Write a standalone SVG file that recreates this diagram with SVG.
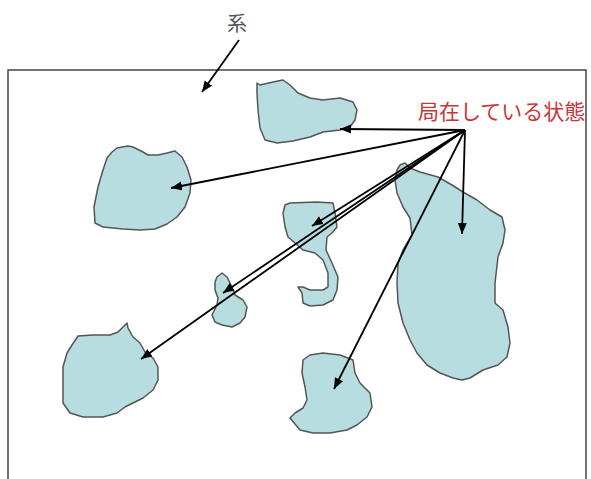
<svg xmlns="http://www.w3.org/2000/svg" width="591" height="479" viewBox="0 0 591 479">
<style>
.blob{fill:#b7dde1;stroke:#555;stroke-width:1.5;stroke-linejoin:round}
.arr{stroke:#000;stroke-width:1.8;fill:none;marker-end:url(#ah)}
.frame{fill:none;stroke:#444;stroke-width:1.5}
</style>
<defs>
<marker id="ah" markerUnits="userSpaceOnUse" markerWidth="12" markerHeight="10" refX="11" refY="4.5" orient="auto">
<path d="M0,0 L11,4.5 L0,9 Z" fill="#000"/>
</marker>
</defs>
<rect width="591" height="479" fill="#fff"/>
<g id="system">
<path class="frame" d="M8,479 V70 H586 V479"/>
</g>
<g id="blob-top"><path class="blob" d="M257,83 L260,85 L273,82 L283,80 L290,85 L298,93 L310,98 L323,100 L340,98 L353,102 L357,110 L355,120 L350,127 L340,130 L323,132 L310,137 L293,141 L277,143 L265,140 L260,128 L258,110 L257,93 Z"/></g>
<g id="blob-left"><path class="blob" d="M112,152 L117,148 L128,146 L133,147 L143,152 L148,155 L158,155 L167,153 L175,151 L182,157 L187,167 L191,180 L190,193 L185,207 L177,217 L167,224 L155,229 L140,230 L123,229 L103,227 L95,223 L94,207 L98,187 L103,170 L107,158 Z"/></g>
<g id="blob-s"><path class="blob" d="M285,205 L290,203 L317,202 L333,203 L335,213 L337,227 L332,233 L327,237 L326,250 L332,263 L338,277 L337,290 L333,300 L323,305 L310,306 L303,303 L302,293 L298,287 L303,287 L310,290 L323,290 L328,287 L328,273 L323,260 L315,253 L303,250 L295,243 L288,237 L285,227 L283,213 Z"/></g>
<g id="blob-small"><path class="blob" d="M217,277 L222,273 L227,277 L232,287 L235,295 L243,300 L247,307 L245,317 L240,323 L232,327 L222,325 L215,322 L212,315 L217,305 L218,298 L215,290 L215,282 Z"/></g>
<g id="blob-bottom-left"><path class="blob" d="M78,336 L93,335 L110,335 L118,332 L123,327 L127,323 L128,328 L133,337 L140,343 L145,352 L153,358 L158,367 L158,380 L153,390 L143,398 L133,403 L125,407 L117,413 L103,417 L83,417 L70,413 L63,403 L63,383 L63,367 L67,353 L72,345 Z"/></g>
<g id="blob-bottom"><path class="blob" d="M303,360 L310,355 L323,353 L340,355 L353,360 L355,373 L360,383 L370,393 L372,407 L367,417 L357,425 L347,430 L330,433 L313,433 L300,430 L290,418 L295,413 L303,408 L307,400 L305,387 L302,373 Z"/></g>
<g id="blob-right"><path class="blob" d="M400,165 L405,163 L410,168 L420,172 L438,177 L452,185 L463,192 L477,200 L490,210 L502,217 L505,230 L503,243 L498,257 L495,283 L495,303 L503,310 L508,327 L510,343 L507,357 L498,365 L483,370 L470,378 L462,380 L453,378 L440,373 L427,365 L417,353 L410,340 L403,323 L398,303 L397,283 L398,263 L403,250 L412,235 L410,218 L403,207 L397,193 L395,180 L397,170 Z"/></g>
<g id="label-system">
<text x="237" y="31" font-family="'Noto Sans CJK JP', sans-serif" font-size="20" fill="#555" text-anchor="middle">系</text>
</g>
<g id="label-localized">
<text x="418" y="119" font-family="'Noto Sans CJK JP', sans-serif" font-size="21" fill="#c8363a">局在している状態</text>
</g>
<g id="connectors">
<path class="arr" d="M239,40 L202,92"/>
<path class="arr" d="M465,130 L340,129"/>
<path class="arr" d="M465,130 L171,188"/>
<path class="arr" d="M465,130 L312,226"/>
<path class="arr" d="M465,130 L223,293"/>
<path class="arr" d="M465,130 L141,359"/>
<path class="arr" d="M465,130 L334,389"/>
<path class="arr" d="M465,130 L462,234"/>
</g>
</svg>
